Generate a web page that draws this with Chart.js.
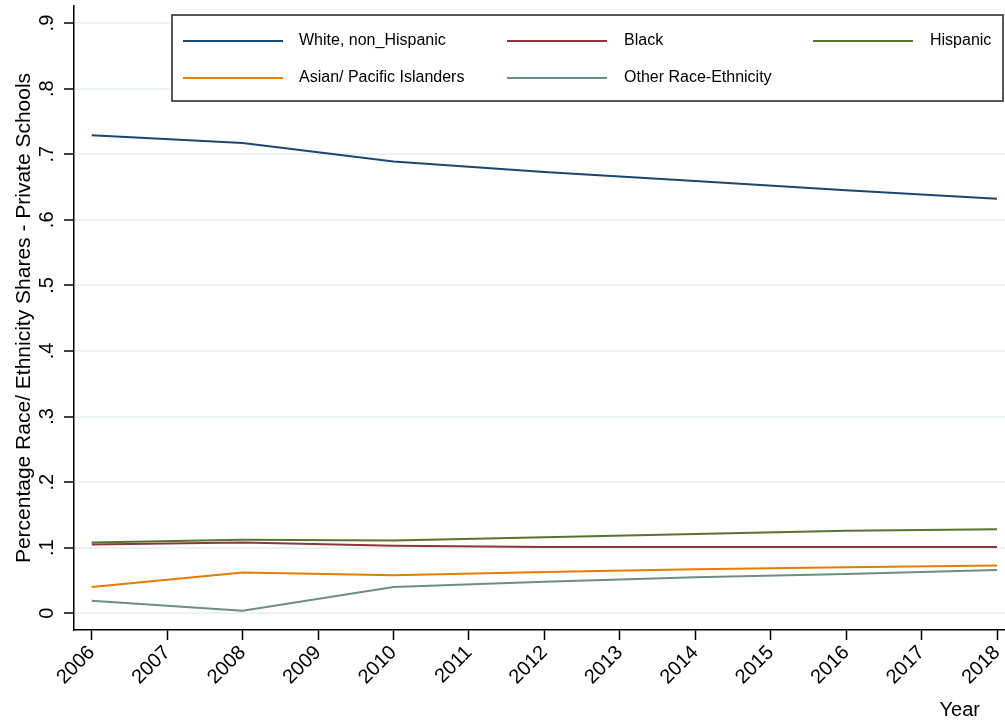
<!DOCTYPE html>
<html>
<head>
<meta charset="utf-8">
<title>Private school race/ethnicity shares</title>
<script src="https://cdn.jsdelivr.net/npm/chart.js@4"></script>
<style>
  html, body { margin: 0; padding: 0; background: #fff; }
  #wrap { width: 1005px; height: 724px; }
</style>
</head>
<body>
<div id="wrap"><canvas id="chart" width="1005" height="724"></canvas></div>
<script>
// survey years (biennial) and yearly tick labels
const years = [2006, 2008, 2010, 2012, 2014, 2016, 2018];
const yearTicks = [2006, 2007, 2008, 2009, 2010, 2011, 2012, 2013, 2014, 2015, 2016, 2017, 2018];
const shareTicks = [0, 0.1, 0.2, 0.3, 0.4, 0.5, 0.6, 0.7, 0.8, 0.9];
const shareLabels = ['0', '.1', '.2', '.3', '.4', '.5', '.6', '.7', '.8', '.9'];

// shares
const white = [0.729, 0.717, 0.689, 0.673, 0.659, 0.645, 0.632];
const black = [0.105, 0.108, 0.103, 0.101, 0.101, 0.101, 0.101];
const hispanic = [0.108, 0.112, 0.111, 0.116, 0.121, 0.126, 0.128];
const asian = [0.040, 0.062, 0.058, 0.063, 0.067, 0.070, 0.073];
const other = [0.019, 0.004, 0.040, 0.048, 0.055, 0.060, 0.066];

const FONT = '"Liberation Sans", Arial, sans-serif';

function series(label, values, color) {
  return {
    label,
    data: years.map((y, i) => ({ x: y, y: values[i] })),
    borderColor: color,
    backgroundColor: color,
    borderWidth: 2,
    pointRadius: 0,
    tension: 0,
    fill: false
  };
}

// rotated y labels, axis titles and the Stata-style boxed legend
const stataBits = {
  id: 'stataBits',
  afterDraw(chart) {
    const ctx = chart.ctx;
    const ys = chart.scales.y;
    ctx.save();
    ctx.fillStyle = '#000';

    // y tick labels, reading bottom to top
    ctx.font = '20px ' + FONT;
    ctx.textAlign = 'center';
    ctx.textBaseline = 'alphabetic';
    shareTicks.forEach((v, i) => {
      ctx.save();
      ctx.translate(53, ys.getPixelForValue(v));
      ctx.rotate(-Math.PI / 2);
      ctx.fillText(shareLabels[i], 0, 0);
      ctx.restore();
    });

    // y title
    ctx.save();
    ctx.font = '21px ' + FONT;
    ctx.translate(30, (chart.chartArea.top + chart.chartArea.bottom) / 2);
    ctx.rotate(-Math.PI / 2);
    ctx.fillText('Percentage Race/ Ethnicity Shares - Private Schools', 0, 0);
    ctx.restore();

    // x title
    ctx.font = '20px ' + FONT;
    ctx.textAlign = 'right';
    ctx.fillText('Year', 980, 716);

    // legend
    const ds = chart.data.datasets;
    const box = { x: 172, y: 15, w: 831, h: 86 };
    const rows = [41, 78];
    const cols = [{ l: 183, t: 299 }, { l: 507, t: 624 }, { l: 813, t: 930 }];
    ctx.fillStyle = '#fff';
    ctx.fillRect(box.x, box.y, box.w, box.h);
    ctx.strokeStyle = '#222';
    ctx.lineWidth = 1.5;
    ctx.strokeRect(box.x, box.y, box.w, box.h);
    ctx.font = '16px ' + FONT;
    ctx.textBaseline = 'middle';
    ctx.textAlign = 'left';
    ds.forEach((d, i) => {
      const c = cols[i % 3], r = rows[Math.floor(i / 3)];
      ctx.strokeStyle = d.borderColor;
      ctx.lineWidth = 2;
      ctx.beginPath();
      ctx.moveTo(c.l, r);
      ctx.lineTo(c.l + 100, r);
      ctx.stroke();
      ctx.fillStyle = '#000';
      ctx.fillText(d.label, c.t, r);
    });
    ctx.restore();
  }
};

new Chart(document.getElementById('chart'), {
  type: 'line',
  data: {
    datasets: [
      series('White, non_Hispanic', white, '#1a476f'),
      series('Black', black, '#90353b'),
      series('Hispanic', hispanic, '#55752f'),
      series('Asian/ Pacific Islanders', asian, '#e37e00'),
      series('Other Race-Ethnicity', other, '#6e8e84')
    ]
  },
  options: {
    responsive: false,
    animation: false,
    layout: { padding: { top: 6, right: 0, left: 0, bottom: 0 } },
    plugins: { legend: { display: false }, tooltip: { enabled: false } },
    scales: {
      x: {
        type: 'linear',
        min: 2005.765,
        max: 2018.106,
        afterBuildTicks: s => { s.ticks = yearTicks.map(v => ({ value: v })); },
        afterFit: s => { s.height = 94; s.paddingLeft = 0; s.paddingRight = 0; },
        ticks: {
          color: '#000',
          font: { family: FONT, size: 20 },
          minRotation: 45,
          maxRotation: 45,
          padding: 1,
          callback: v => String(v)
        },
        grid: { drawOnChartArea: false, tickColor: '#000', tickLength: 10, tickWidth: 1.5 },
        border: { color: '#000', width: 1.5 }
      },
      y: {
        min: -0.0255,
        max: 0.926,
        afterBuildTicks: s => { s.ticks = shareTicks.map(v => ({ value: v })); },
        afterFit: s => { s.width = 74; s.paddingTop = 0; s.paddingBottom = 0; },
        ticks: { display: false },
        grid: { color: '#eaf2f3', lineWidth: 2, tickColor: '#000', tickLength: 10, tickWidth: 1.5 },
        border: { color: '#000', width: 1.5 }
      }
    }
  },
  plugins: [stataBits]
});
</script>
</body>
</html>
